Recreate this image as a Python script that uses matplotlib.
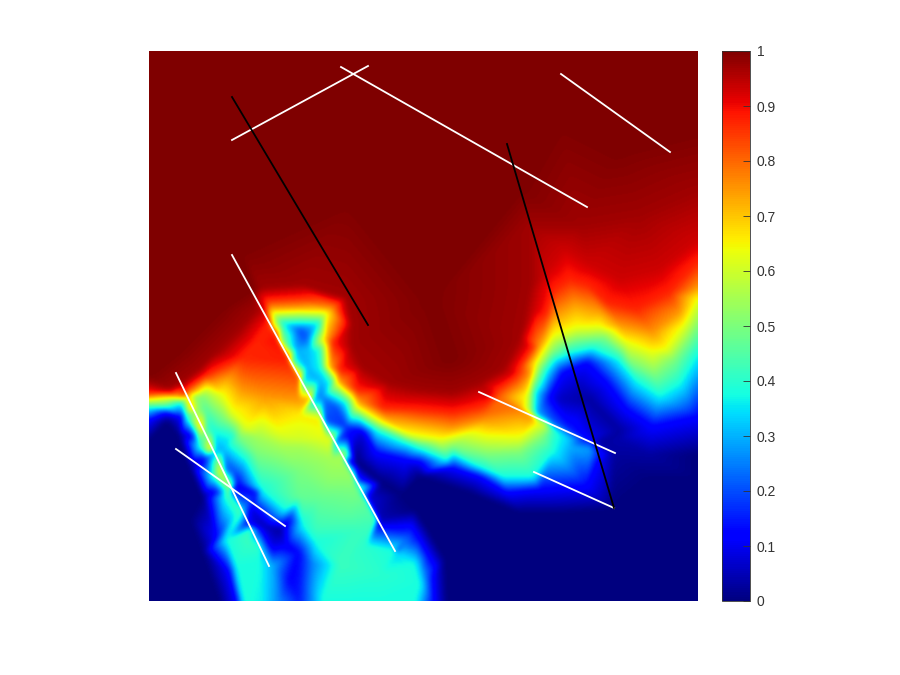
import numpy as np
import matplotlib
matplotlib.use('Agg')
from matplotlib import pyplot as plt
from matplotlib import tri as mtri
from matplotlib.cm import ScalarMappable
from matplotlib.colors import Normalize

plt.rcParams['font.family'] = ['Liberation Sans', 'DejaVu Sans']

# field: (value, [(x, y), ...]), coords are px in the reference
top_flat = (1.0, [(149, 51), (300, 51), (450, 51), (600, 51), (698, 51), (149, 150), (149, 250), (149, 340), (149, 375),
                  (250, 150), (350, 200), (450, 150), (560, 120), (698, 130), (430, 300), (200, 280), (240, 250), (450, 360),
                  (620, 150), (520, 190), (180, 350), (220, 310)])
far_zero = (0.0, [(149, 601), (190, 520), (149, 440), (166, 422), (179, 437), (189, 467), (202, 497), (202, 553), (219, 601),
                  (420, 477), (470, 493), (520, 513), (570, 513), (613, 510), (698, 601), (500, 601), (447, 601), (445, 560),
                  (428, 530), (415, 510), (600, 560), (698, 480), (698, 455), (356, 462), (382, 483), (402, 495), (650, 480)])

level_97 = (0.97, [(149, 383), (170, 389), (182, 383), (199, 370), (216, 353), (239, 330), (256, 310), (262, 288), (300, 285),
                   (346, 298), (352, 325), (352, 347), (362, 367), (389, 383), (420, 390), (453, 393), (480, 383), (503, 370),
                   (520, 337), (530, 287), (530, 225), (580, 225), (640, 215), (698, 190)])
level_93 = (0.93, [(698, 240), (660, 270), (620, 280), (590, 265), (565, 250), (548, 270), (535, 310), (525, 345), (512, 372), (490, 393)])
level_87 = (0.87, [(149, 393), (170, 393), (187, 388), (206, 375), (226, 365), (242, 358), (255, 345), (266, 300), (300, 298), (339, 307),
                   (332, 343), (339, 370), (356, 390), (382, 408), (420, 410), (453, 413), (480, 407), (497, 390),
                   (520, 367), (533, 347), (547, 313), (555, 290), (570, 280), (587, 285), (607, 303), (637, 310), (670, 293), (698, 263)])
level_75 = (0.75, [(149, 397), (175, 396), (191, 392), (212, 383), (229, 377), (242, 390), (266, 397), (299, 400), (270, 308), (300, 307),
                   (332, 309), (327, 340), (331, 367), (341, 383), (359, 402), (386, 418), (420, 423), (453, 428), (487, 420),
                   (533, 417), (530, 375), (540, 345), (555, 315), (575, 303), (600, 310), (620, 325), (653, 333), (680, 312), (698, 287)])
level_63 = (0.63, [(149, 400), (169, 398), (179, 399), (206, 388), (221, 395), (232, 413), (246, 427), (279, 432), (309, 430), (326, 438),
                   (272, 313), (300, 312), (326, 313), (322, 340), (326, 367), (336, 383), (356, 407), (382, 423), (409, 435), (420, 437),
                   (440, 440), (520, 438), (543, 423), (527, 397), (537, 363), (553, 337), (577, 328), (600, 327), (627, 343), (653, 353),
                   (667, 350), (683, 328), (698, 300)])
level_55 = (0.55, [(237, 425), (259, 437), (282, 447), (299, 447), (332, 459)])
level_50 = (0.50, [(202, 397), (225, 420), (239, 437), (256, 453), (299, 470), (356, 489), (420, 443), (453, 447), (487, 455), (520, 453),
                   (543, 437), (532, 395), (537, 378), (552, 353), (577, 340), (605, 338), (630, 362), (655, 375), (675, 360), (690, 340), (698, 327)])
level_38 = (0.38, [(149, 408), (166, 408), (181, 403), (186, 417), (199, 447), (212, 477), (224, 497), (226, 540), (236, 567), (243, 601),
                   (232, 437), (246, 460), (262, 490), (285, 510), (303, 525), (316, 543), (322, 601), (349, 601), (382, 601), (416, 601),
                   (415, 565), (420, 585), (282, 323), (319, 323), (319, 350), (322, 370), (331, 383), (346, 403), (376, 430), (406, 443),
                   (420, 449), (447, 460), (480, 467), (503, 477), (533, 477), (553, 452), (535, 393), (547, 370), (570, 353), (593, 348),
                   (620, 360), (637, 380), (660, 395), (680, 383), (698, 353)])
level_12 = (0.12, [(149, 420), (166, 413), (181, 417), (192, 437), (204, 460), (216, 493), (216, 537), (229, 573), (236, 601),
                   (256, 493), (289, 520), (349, 437), (376, 453), (406, 460), (420, 462), (453, 468), (480, 477), (507, 493), (540, 490),
                   (587, 487), (597, 463), (550, 397), (563, 373), (587, 363), (607, 383), (627, 410), (653, 427), (698, 417),
                   (418, 537), (428, 555), (433, 580), (434, 601), (298, 553), (289, 580)])

# either side of the long white wall: (y, left value, right value)
wall1_y = [255, 290, 310, 325, 340, 360, 380, 400, 420, 440, 460, 480, 500, 520, 551]
wall1_left = [1.0, 1.0, 0.97, 0.87, 0.9, 0.88, 0.82, 0.72, 0.66, 0.62, 0.55, 0.52, 0.47, 0.43, 0.38]
wall1_right = [1.0, 1.0, 0.92, 0.7, 0.55, 0.45, 0.35, 0.3, 0.2, 0.22, 0.15, 0.18, 0.08, 0.05, 0.15]

# either side of the short white wall
wall2_y = [395, 410, 430, 450, 470, 488, 510, 530, 550]
wall2_left = [0.85, 0.75, 0.72, 0.7, 0.68, 0.55, 0.45, 0.42, 0.4]
wall2_right = [0.72, 0.55, 0.45, 0.3, 0.25, 0.12, 0.28, 0.32, 0.3]

# single spots inside the strips and plumes: x, y, value
spot_x = [299, 306, 296, 309, 306, 319, 322, 336, 346, 362, 195, 205, 212, 222, 232, 237, 252, 262, 272, 249, 266, 276, 280, 285,
          299, 299, 312, 312, 272, 279, 299, 349, 316, 366, 409, 425, 425, 229, 249, 259, 500, 520, 530, 537, 550, 570, 590, 600,
          487, 520, 540, 555, 570, 590, 600, 615, 570, 590, 560, 590, 620, 580, 650, 620, 400,
          300, 330, 360, 380, 340, 300, 345, 320, 250, 262]
spot_y = [330, 337, 350, 350, 367, 380, 397, 407, 427, 433, 397, 410, 430, 450, 470, 483, 510, 530, 548, 523, 527, 533, 530, 545,
          580, 601, 565, 601, 567, 601, 497, 513, 530, 547, 537, 575, 601, 497, 540, 563, 398, 407, 411, 414, 420, 429, 438, 443,
          413, 409, 424, 432, 439, 449, 454, 453, 447, 458, 400, 400, 430, 385, 455, 440, 553,
          415, 480, 530, 575, 565, 440, 455, 500, 601, 601]
spot_v = [0.2, 0.2, 0.3, 0.32, 0.3, 0.3, 0.25, 0.2, 0.17, 0.08, 0.5, 0.45, 0.38, 0.3, 0.2, 0.12, 0.08, 0.1, 0.1, 0.1, 0.05, 0.04, 0.03, 0.1,
          0.14, 0.15, 0.25, 0.27, 0.3, 0.25, 0.47, 0.46, 0.42, 0.4, 0.2, 0.25, 0.25, 0.45, 0.42, 0.38, 0.8, 0.72, 0.55, 0.3, 0.22, 0.15, 0.1, 0.03,
          0.8, 0.78, 0.62, 0.4, 0.32, 0.28, 0.15, 0.03, 0.3, 0.25, 0.06, 0.03, 0.03, 0.06, 0.03, 0.04, 0.33,
          0.66, 0.52, 0.42, 0.4, 0.42, 0.6, 0.55, 0.47, 0.38, 0.36]

white_lines = [((232, 140), (368, 66)), ((341, 67), (587, 207)), ((561, 74), (670, 152)), ((232, 255), (395, 551)),
               ((176, 373), (269, 566)), ((176, 449), (285, 526)), ((479, 392), (615, 453)), ((534, 472), (614, 508))]
black_lines = [((232, 97), (368, 325)), ((507, 144), (614, 508))]
cbar_ticks = [0, 0.1, 0.2, 0.3, 0.4, 0.5, 0.6, 0.7, 0.8, 0.9, 1]
cbar_labels = ['0', '0.1', '0.2', '0.3', '0.4', '0.5', '0.6', '0.7', '0.8', '0.9', '1']

X, Y, V = [], [], []
for val, pts in [top_flat, far_zero, level_97, level_93, level_87, level_75, level_63, level_55, level_50, level_38, level_12]:
    for p in pts:
        X.append(p[0])
        Y.append(p[1])
        V.append(val)
for y, l, r in zip(wall1_y, wall1_left, wall1_right):
    xw = 232 + (y - 255) * 163 / 296
    X += [xw - 1.2, xw + 1.2]
    Y += [y, y]
    V += [l, r]
for y, l, r in zip(wall2_y, wall2_left, wall2_right):
    xw = 176 + (y - 373) * 93 / 193
    X += [xw - 1.2, xw + 1.2]
    Y += [y, y]
    V += [l, r]
X += spot_x
Y += spot_y
V += spot_v

# linear on the triangles, then a small blur to take the facets off
gx, gy = np.meshgrid(np.arange(149, 699), np.arange(51, 602))
Z = mtri.LinearTriInterpolator(mtri.Triangulation(X, Y), V)(gx, gy).filled(0.0)
kernel = np.exp(-0.5 * (np.arange(-7, 8) / 2.5) ** 2)
kernel = kernel / kernel.sum()
Z = np.pad(Z, 7, mode='edge')
Z = np.apply_along_axis(np.convolve, 0, Z, kernel, mode='same')
Z = np.apply_along_axis(np.convolve, 1, Z, kernel, mode='same')
Z = Z[7:-7, 7:-7]

fig = plt.figure(figsize=(9, 6.75), dpi=100)
ax = fig.add_axes([149 / 900, 74 / 675, 549 / 900, 550 / 675])
ax.imshow(Z, cmap='jet', vmin=0, vmax=1, extent=(149, 698, 601, 51), aspect='auto', interpolation='bilinear')
for a, b in white_lines:
    ax.plot([a[0], b[0]], [a[1], b[1]], color='white', lw=1.3)
for a, b in black_lines:
    ax.plot([a[0], b[0]], [a[1], b[1]], color='black', lw=1.3)
ax.set_xlim(149, 698)
ax.set_ylim(601, 51)
ax.axis('off')

cax = fig.add_axes([722 / 900, 74 / 675, 28 / 900, 550 / 675])
cb = fig.colorbar(ScalarMappable(Normalize(0, 1), cmap='jet'), cax=cax)
cb.set_ticks(cbar_ticks)
cb.set_ticklabels(cbar_labels)
cb.ax.tick_params(direction='in', length=5, width=0.6, color='#333333', labelcolor='#333333', labelsize=10, pad=5)
cb.outline.set_edgecolor('#333333')
cb.outline.set_linewidth(0.6)

plt.savefig('out.png', dpi=100)
